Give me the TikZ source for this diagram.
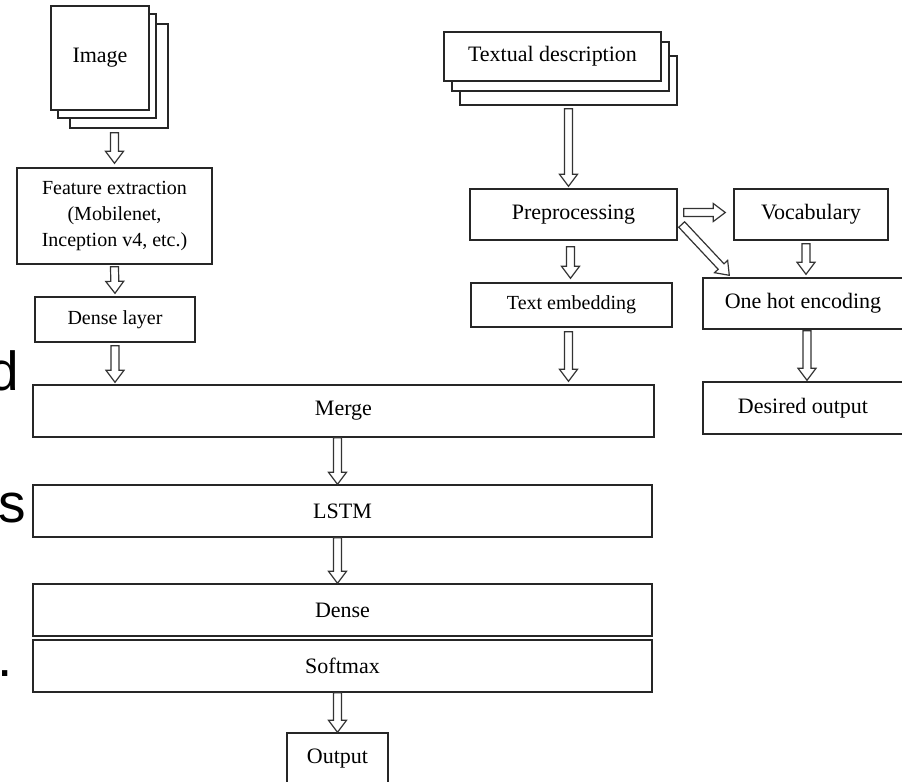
\documentclass[tikz,border=0pt]{standalone}
\usepackage{fontspec}
\setmainfont{Liberation Serif}
\newfontfamily\slidefont{Liberation Sans}
\usetikzlibrary{calc}
\usetikzlibrary{positioning}

% hollow block arrow from #1 to #2
\newcommand{\hollowarrow}[2]{%
  \path (#1) coordinate (ha1) (#2) coordinate (ha2);
  \coordinate (hab) at ($(ha2)!6pt!(ha1)$);
  \draw[harrow] ($(ha1)!2pt!90:(ha2)$) -- ($(hab)!2pt!90:(ha2)$) -- ($(hab)!4.5pt!90:(ha2)$)
    -- (ha2) -- ($(hab)!4.5pt!-90:(ha2)$) -- ($(hab)!2pt!-90:(ha2)$) -- ($(ha1)!2pt!-90:(ha2)$) -- cycle;
}

\begin{document}
\begin{tikzpicture}[x=0.5pt, y=-0.5pt,
    box/.style={draw=black!85, line width=0.7pt, fill=white, inner sep=0pt,
        font=\fontsize{11}{13}\selectfont},
    smallbox/.style={box, font=\fontsize{10}{13}\selectfont},
    harrow/.style={draw=black!80, line width=0.6pt, fill=white, line join=miter},
    slide/.style={inner sep=0pt, anchor=base west, font=\slidefont\fontsize{27.5}{33}\selectfont}]

\useasboundingbox (0,0) rectangle (902,782);
\clip (0,0) rectangle (902,782);

% Image stack
\node[box, minimum width=49pt, minimum height=52pt] (img3) at (119,76) {};
\node[box, minimum width=49pt, minimum height=52pt] (img2) at (107,66) {};
\node[box, minimum width=49pt, minimum height=52pt] (img) at (100,58) {Image};

% Image branch
\node[smallbox, minimum width=97.5pt, minimum height=48pt, align=center] (feat) at (114.5,216)
    {Feature extraction\\(Mobilenet,\\Inception v4, etc.)};
\node[smallbox, minimum width=80pt, minimum height=22.5pt] (dl) at (115,319.5) {Dense layer};

% Textual description stack
\node[box, minimum width=108.5pt, minimum height=24.5pt] (txt3) at (568.5,80.5) {};
\node[box, minimum width=108.5pt, minimum height=24.5pt] (txt2) at (560.5,66.5) {};
\node[box, minimum width=108.5pt, minimum height=24.5pt] (txt) at (552.5,56.5) {Textual description};

% Text branch
\node[box, minimum width=103.5pt, minimum height=25.5pt] (prep) at (573.5,214.5) {Preprocessing};
\node[box, minimum width=77pt, minimum height=25.5pt] (voc) at (811,214.5) {Vocabulary};
\node[smallbox, minimum width=100.5pt, minimum height=22pt] (temb) at (571.5,305) {Text embedding};
\node[box, minimum width=100pt, minimum height=25.5pt] (oh) at (803,303.5) {One hot encoding};
\node[box, minimum width=100pt, minimum height=26pt] (des) at (803,408) {Desired output};

% Decoder layers
\node[box, minimum width=310.5pt, minimum height=26pt] (merge) at (343.5,411) {Merge};
\node[box, minimum width=309.5pt, minimum height=26pt] (lstm) at (342.5,511) {LSTM};
\node[box, minimum width=309.5pt, minimum height=26pt] (dense) at (342.5,610) {Dense};
\node[box, minimum width=309.5pt, minimum height=26pt] (soft) at (342.5,666) {Softmax};
\node[box, minimum width=50.5pt, minimum height=26pt] (out) at (337.5,759) {Output};

% Arrows
\hollowarrow{$(img3.south -| feat.north)+(0,4)$}{$(feat.north)+(0,-4)$}
\hollowarrow{$(feat.south)+(0,2)$}{$(dl.north)+(0,-3)$}
\hollowarrow{$(dl.south)+(0,3)$}{$(merge.north -| dl.south)+(0,-2)$}
\hollowarrow{$(txt3.south)+(0,3)$}{$(prep.north -| txt3.south)+(0,-2)$}
\hollowarrow{$(prep.south)+(-3,6)$}{$(temb.north)+(-1,-4)$}
\hollowarrow{$(prep.east)+(6,-2)$}{$(voc.west)+(-8,-2)$}
\hollowarrow{$(prep.east)+(4,10)$}{$(oh.north west)+(27,-2)$}
\hollowarrow{$(voc.south)+(-5,3)$}{$(oh.north -| voc.south)+(-5,-3)$}
\hollowarrow{$(oh.south)+(4,1)$}{$(des.north)+(4,-1)$}
\hollowarrow{$(temb.south)+(-3,4)$}{$(merge.north -| temb.south)+(-3,-3)$}
\hollowarrow{merge.south -| out.north}{lstm.north -| out.north}
\hollowarrow{lstm.south -| out.north}{dense.north -| out.north}
\hollowarrow{soft.south -| out.north}{out.north}

% Cut-off slide text on the left
\node[slide] (sd) at (-11.5,390) {d};
\node[slide] (ss) at (-1.5,522) {s};
\node[slide] (sp) at (-3,676) {.};

\end{tikzpicture}
\end{document}
